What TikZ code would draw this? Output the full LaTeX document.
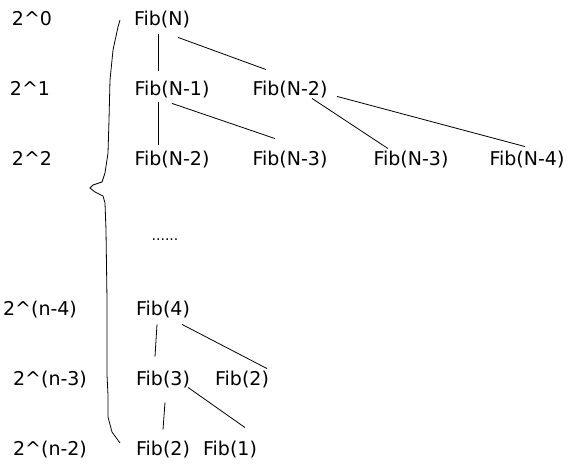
\documentclass[tikz,border=0pt]{standalone}
\usepackage{fontspec}
\setmainfont{DejaVu Sans}
\usepackage{tikz}

\begin{document}
\begin{tikzpicture}[x=1pt,y=-1pt,line width=0.8pt,
  fib/.style={anchor=base,inner sep=0pt,font=\fontsize{19}{22}\selectfont},
  lvl/.style={fib}]
\useasboundingbox (0,0) rectangle (577,471);
%层数
\node[lvl] (p0) at (32,25) {2\textasciicircum 0};
\node[lvl] (p1) at (30,95) {2\textasciicircum 1};
\node[lvl] (p2) at (32,165) {2\textasciicircum 2};
\node[lvl] (pn4) at (40,315) {2\textasciicircum(n-4)};
\node[lvl] (pn3) at (50,385) {2\textasciicircum(n-3)};
\node[lvl] (pn2) at (50,455) {2\textasciicircum(n-2)};
%大括号
\draw (120,20) -- (118,27) -- (113,50) -- (110,80) -- (109,120) -- (108,153)
  -- (105,173) -- (102,182) -- (93,185) -- (90,188) -- (95,192) -- (103,196)
  -- (105,203) -- (106,230) -- (107,300) -- (107,375) -- (108,395)
  -- (108,417) -- (112,432) -- (120,443);
%Fib
\node[fib] (fN) at (162,25) {Fib(N)};
\node[fib] (fNa) at (172,95) {Fib(N-1)};
\node[fib] (fNb) at (290,95) {Fib(N-2)};
\node[fib] (fNc) at (172,165) {Fib(N-2)};
\node[fib] (fNd) at (290,165) {Fib(N-3)};
\node[fib] (fNe) at (411,165) {Fib(N-3)};
\node[fib] (fNf) at (527,165) {Fib(N-4)};
\node[fib,font=\fontsize{14}{16}\selectfont] (dots) at (165,240) {......};
\node[fib] (f4) at (163,315) {Fib(4)};
\node[fib] (f3) at (163,385) {Fib(3)};
\node[fib] (f2a) at (242,385) {Fib(2)};
\node[fib] (f2b) at (163,455) {Fib(2)};
\node[fib] (f1) at (230,455) {Fib(1)};
%连线
\draw ([shift={(-4,6.5)}]fN.south) -- ([shift={(-14,-9.6)}]fNa.north);
\draw ([shift={(16,9.5)}]fN.south) -- ([shift={(-24,-10.6)}]fNb.north);
\draw ([shift={(-14,4.5)}]fNa.south) -- ([shift={(-14,-5.6)}]fNc.north);
\draw ([shift={(0,5.5)}]fNa.south) -- ([shift={(-15,-11.6)}]fNd.north);
\draw ([shift={(22,0.5)}]fNb.south) -- ([shift={(-23,-1.6)}]fNe.north);
\draw ([shift={(47,-1.5)}]fNb.south) -- ([shift={(-2,-3.6)}]fNf.north);
\draw ([shift={(-6,6.5)}]f4.south) -- ([shift={(-8,-13.6)}]f3.north);
\draw ([shift={(19,6.5)}]f4.south) -- ([shift={(25,-1.6)}]f2a.north);
\draw ([shift={(2,14.5)}]f3.south) -- ([shift={(0,-10.6)}]f2b.north);
\draw ([shift={(25,-0.5)}]f3.south) -- ([shift={(15,-12.6)}]f1.north);
\end{tikzpicture}
\end{document}
